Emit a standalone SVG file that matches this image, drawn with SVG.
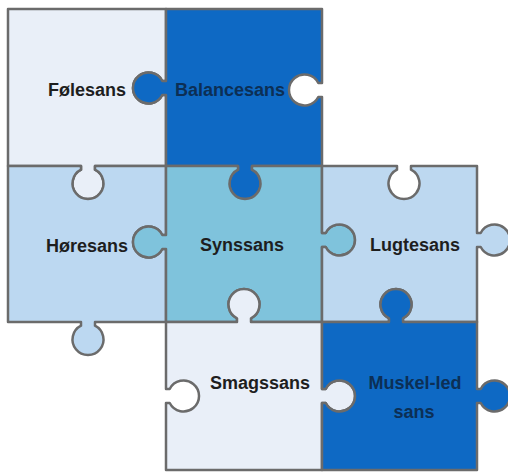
<svg xmlns="http://www.w3.org/2000/svg" width="508" height="475" viewBox="0 0 508 475">
<style>
.p{stroke:#6b6b6b;stroke-width:2.5;stroke-linejoin:round}
.t{font-family:"Liberation Sans",Arial,sans-serif;font-weight:bold;font-size:18px;text-anchor:middle;fill:#1e1e1e}
.d{fill:#0c2f55}
</style>
<rect width="508" height="475" fill="#ffffff"/>
<g id="folesans">
<path class="p" fill="#e9eff8" d="M8,9 H166 V81 L162.3,81 A15.5 15.5 0 1 0 162.3,95 L166,95 V166 H95 L95,169.7 A15.5 15.5 0 1 1 81,169.7 L81,166 H8 Z"/>
<text class="t" x="87" y="96">Følesans</text>
</g>
<g id="balancesans">
<path class="p" fill="#0e69c4" d="M166,9 H322 V83 L318.3,83 A15.5 15.5 0 1 0 318.3,97 L322,97 V166 H252 L252,169.7 A15.5 15.5 0 1 1 238,169.7 L238,166 H166 V95 L162.3,95 A15.5 15.5 0 1 1 162.3,81 L166,81 Z"/>
<text class="t d" x="230" y="96">Balancesans</text>
</g>
<g id="horesans">
<path class="p" fill="#bcd8f1" d="M8,166 H81 L81,169.7 A15.5 15.5 0 1 0 95,169.7 L95,166 H166 V235 L162.3,235 A15.5 15.5 0 1 0 162.3,249 L166,249 V322 H95 L95,325.7 A15.5 15.5 0 1 1 81,325.7 L81,322 H8 Z"/>
<text class="t" x="87" y="252">Høresans</text>
</g>
<g id="synssans">
<path class="p" fill="#7fc3dc" d="M166,166 H238 L238,169.7 A15.5 15.5 0 1 0 252,169.7 L252,166 H322 V233 L325.7,233 A15.5 15.5 0 1 1 325.7,247 L322,247 V322 H251 L251,318.3 A15.5 15.5 0 1 0 237,318.3 L237,322 H166 V249 L162.3,249 A15.5 15.5 0 1 1 162.3,235 L166,235 Z"/>
<text class="t" x="242" y="251">Synssans</text>
</g>
<g id="lugtesans">
<path class="p" fill="#bdd8f0" d="M322,166 H397 L397,169.7 A15.5 15.5 0 1 0 411,169.7 L411,166 H477 V233 L480.7,233 A15.5 15.5 0 1 1 480.7,247 L477,247 V322 H403 L403,318.3 A15.5 15.5 0 1 0 389,318.3 L389,322 H322 V247 L325.7,247 A15.5 15.5 0 1 0 325.7,233 L322,233 Z"/>
<text class="t" x="415" y="251">Lugtesans</text>
</g>
<g id="smagssans">
<path class="p" fill="#e9eff8" d="M166,322 H237 L237,318.3 A15.5 15.5 0 1 1 251,318.3 L251,322 H322 V389 L325.7,389 A15.5 15.5 0 1 1 325.7,403 L322,403 V470 H166 V403 L169.7,403 A15.5 15.5 0 1 0 169.7,389 L166,389 Z"/>
<text class="t" x="260" y="389">Smagssans</text>
</g>
<g id="muskel-led">
<path class="p" fill="#0e69c4" d="M322,322 H389 L389,318.3 A15.5 15.5 0 1 1 403,318.3 L403,322 H477 V389 L480.7,389 A15.5 15.5 0 1 1 480.7,403 L477,403 V470 H322 V403 L325.7,403 A15.5 15.5 0 1 0 325.7,389 L322,389 Z"/>
<text class="t d" x="415" y="389">Muskel-led</text>
<text class="t d" x="414" y="418">sans</text>
</g>
</svg>
